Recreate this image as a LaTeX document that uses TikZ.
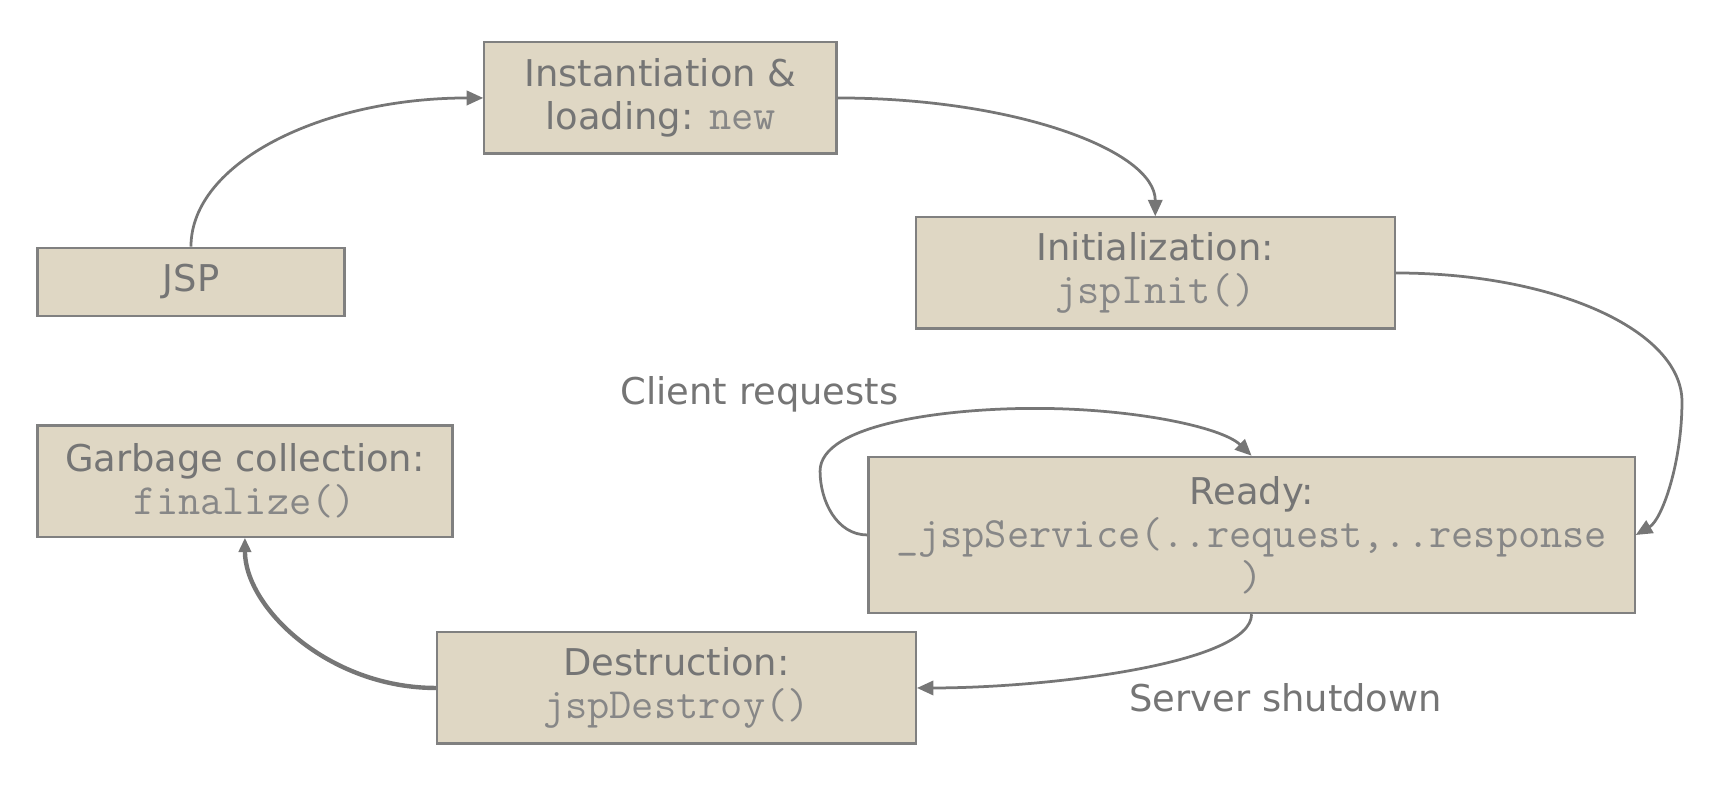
\documentclass[tikz,border=0pt]{standalone}
\usepackage{fontspec}
\setmainfont{DejaVu Sans}
\usetikzlibrary{arrows.meta}
\definecolor{boxfill}{RGB}{223,215,196}
\definecolor{boxline}{RGB}{128,128,128}
\definecolor{txt}{RGB}{117,117,117}
\definecolor{mtxt}{RGB}{135,135,135}
\definecolor{conn}{RGB}{118,118,118}
\newcommand\monotxt[1]{{\ttfamily\fontsize{19.6pt}{19pt}\selectfont\color{mtxt}#1}}
\begin{document}
\begin{tikzpicture}[x=0.5pt,y=-0.5pt,
  stage/.style={rectangle,draw=boxline,fill=boxfill,line width=1pt,inner sep=0pt,
    align=center,text=txt,font=\fontsize{16.75pt}{19.5pt}\selectfont},
  lbl/.style={inner sep=0pt,text=txt,font=\fontsize{16.75pt}{19pt}\selectfont},
  flow/.style={draw=conn,line width=1.25pt,-{Triangle[length=7.5pt,width=6.5pt]}},
  thickflow/.style={draw=conn,line width=2pt,-{Triangle[length=6.5pt,width=5.5pt]}}]
\useasboundingbox (0,0) rectangle (1568,731);
\node[stage,minimum width=320*0.5pt,minimum height=101*0.5pt] (inst) at (600,89)
  {Instantiation \&\\loading: \monotxt{new}};
\node[stage,minimum width=279*0.5pt,minimum height=62*0.5pt] (jsp) at (173.5,256) {\raisebox{-2pt}{JSP}};
\node[stage,minimum width=435*0.5pt,minimum height=101*0.5pt] (init) at (1049.5,248)
  {Initialization:\\\monotxt{jspInit()}};
\node[stage,minimum width=696*0.5pt,minimum height=142*0.5pt] (ready) at (1137,486)
  {Ready:\\\monotxt{\_jspService(..request,..response}\\\monotxt{)}};
\node[stage,minimum width=377*0.5pt,minimum height=101*0.5pt] (gc) at (222.5,437)
  {Garbage collection:\\\monotxt{finalize()}};
\node[stage,minimum width=435*0.5pt,minimum height=101*0.5pt] (destr) at (614.5,625)
  {Destruction:\\\monotxt{jspDestroy()}};
\node[lbl] (creq) at (690,358) {Client requests};
\node[lbl] (sshut) at (1168,634) {Server shutdown};
\draw[flow] (jsp.north) .. controls +(0,-76) and +(-147,0) .. (inst.west);
\draw[flow] (inst.east) .. controls +(160,0) and +(0,-60) .. (init.north);
\coordinate (bulge) at (1528,365);
\draw[flow] (init.east) .. controls +(144,0) and (1528,300) .. (bulge)
  .. controls (1528,420) and (1510,472) .. (ready.east);
\coordinate (loopl) at (745,428);
\coordinate (loopt) at (940,371);
\draw[flow] (ready.west) .. controls (760,486) and (745,455) .. (loopl)
  .. controls (745,385) and (860,371) .. (loopt)
  .. controls (1030,371) and (1110,388) .. (ready.north);
\draw[flow] (ready.south) .. controls +(0,45) and +(118,0) .. (destr.east);
\draw[thickflow] (destr.west) .. controls +(-97,0) and +(0,64) .. (gc.south);
\end{tikzpicture}
\end{document}
